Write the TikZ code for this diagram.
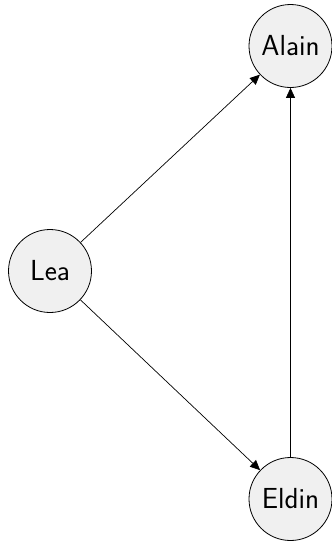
\documentclass[tikz,border=0pt]{standalone}
\usepackage{fontspec}
\usetikzlibrary{arrows.meta}
\begin{document}
\begin{tikzpicture}[x=1pt,y=-1pt,
  person/.style={circle,draw=black,fill=black!6,line width=0.8pt,minimum size=83pt,inner sep=0pt,font=\sffamily\fontsize{29}{34}\selectfont},
  link/.style={-{Triangle[length=10pt,width=9pt]},line width=0.7pt}]
\useasboundingbox (0,0) rectangle (332,542);
\node[person] (alain) at (290.5,46) {Alain};
\node[person] (lea) at (50,271) {Lea};
\node[person] (eldin) at (290.5,499) {Eldin};
\draw[link] (lea) -- (alain);
\draw[link] (lea) -- (eldin);
\draw[link] (eldin) -- (alain);
\end{tikzpicture}
\end{document}
